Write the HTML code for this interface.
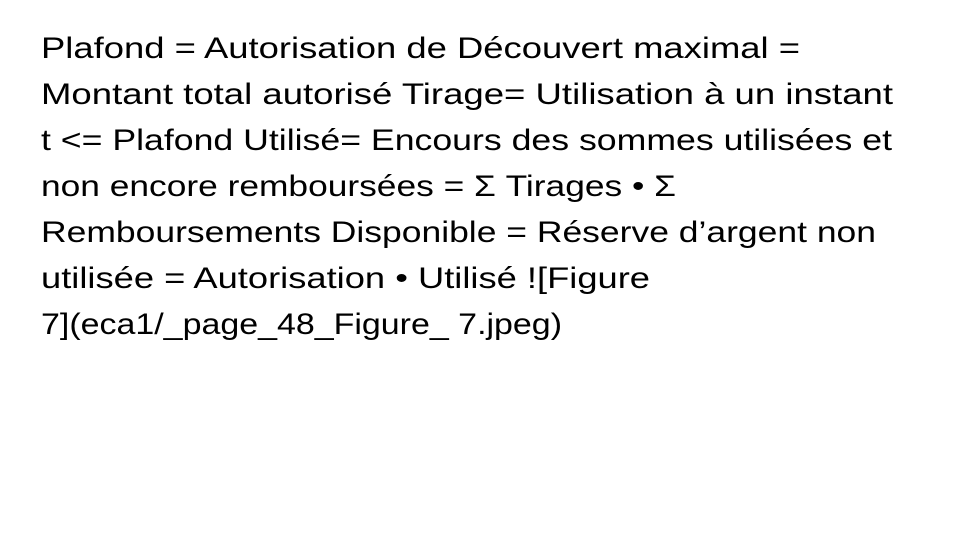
<!DOCTYPE html>
<html><head><meta charset="utf-8"><style>
html,body{margin:0;padding:0;background:#fff;width:960px;height:540px;overflow:hidden}
svg{display:block}
text{font-family:"Liberation Sans",sans-serif;font-size:30px;fill:#000}
</style></head><body>
<svg width="960" height="540" viewBox="0 0 960 540" xmlns="http://www.w3.org/2000/svg">
<text x="41" y="58" textLength="759" lengthAdjust="spacingAndGlyphs">Plafond = Autorisation de Découvert maximal =</text>
<text x="41" y="104" textLength="852" lengthAdjust="spacingAndGlyphs">Montant total autorisé Tirage= Utilisation à un instant</text>
<text x="41" y="150" textLength="851" lengthAdjust="spacingAndGlyphs">t &lt;= Plafond Utilisé= Encours des sommes utilisées et</text>
<text x="41" y="196" textLength="635" lengthAdjust="spacingAndGlyphs">non encore remboursées = Σ Tirages • Σ</text>
<text x="41" y="242" textLength="835" lengthAdjust="spacingAndGlyphs">Remboursements Disponible = Réserve d’argent non</text>
<text x="41" y="288" textLength="609" lengthAdjust="spacingAndGlyphs">utilisée = Autorisation • Utilisé ![Figure</text>
<text x="41" y="334" textLength="521" lengthAdjust="spacingAndGlyphs">7](eca1/_page_48_Figure_ 7.jpeg)</text>
</svg>
</body></html>
